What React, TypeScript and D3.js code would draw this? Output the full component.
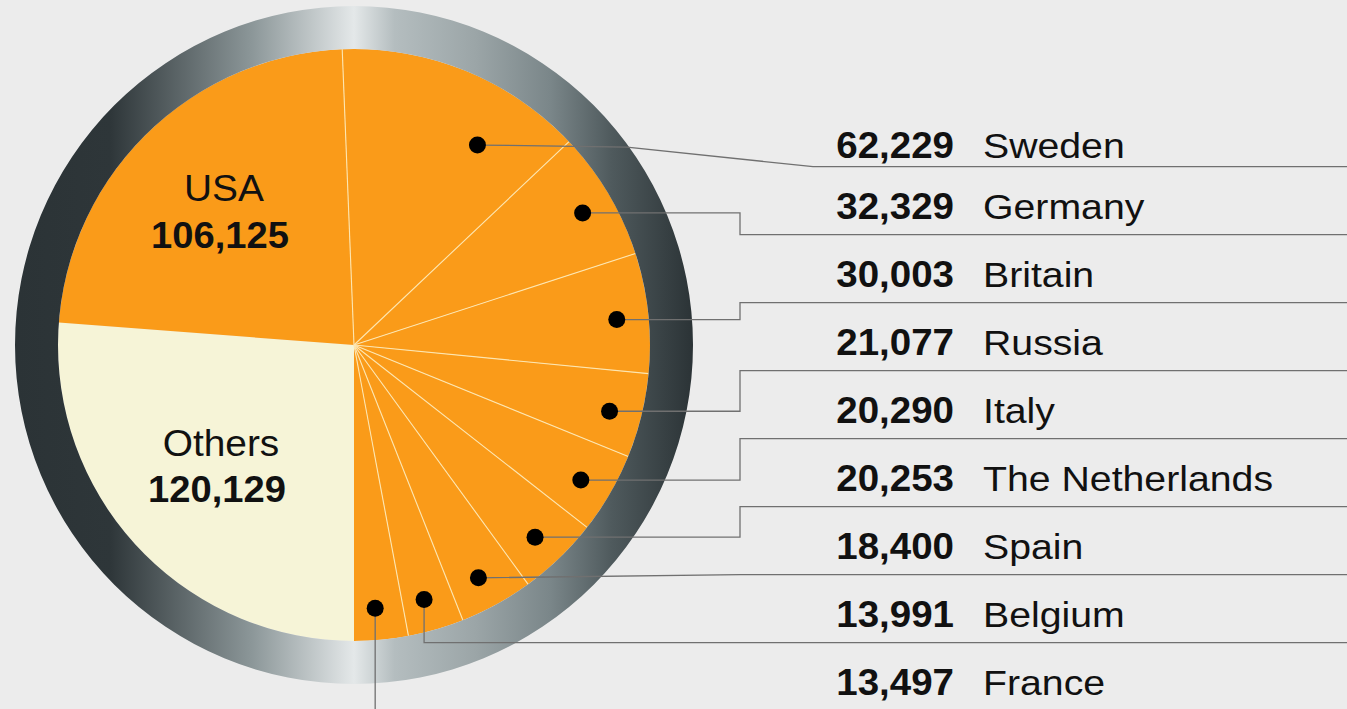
import React, { useEffect, useRef } from "react";
import * as d3 from "d3";

// values
const countries = ["Sweden", "Germany", "Britain", "Russia", "Italy", "The Netherlands", "Spain", "Belgium", "France"];
const countryValues = [62229, 32329, 30003, 21077, 20290, 20253, 18400, 13991, 13497];
const bigNames = ["Others", "USA"];
const bigValues = [120129, 106125];
const leaderKinds = ["slant", "elbow", "elbow", "elbow", "elbow", "elbow", "direct", "drop", "drop"];

const W = 1347;
const H = 709;
const cx = 354;
const cy = 345;
const r = 296;
const ringR = 339;
const font = "'Liberation Sans', Arial, Helvetica, sans-serif";
const orange = "#fa9b19";
const cream = "#f6f4d7";
const lineColor = "#707070";

export default function App() {
  const ref = useRef<SVGSVGElement>(null);

  useEffect(() => {
    document.body.style.margin = "0";
    const svg = d3.select(ref.current);
    svg.selectAll("*").remove();

    svg.append("rect").attr("width", W).attr("height", H).attr("fill", "#ececec");

    const defs = svg.append("defs");
    const grad = defs
      .append("linearGradient")
      .attr("id", "ring")
      .attr("gradientUnits", "userSpaceOnUse")
      .attr("x1", -ringR)
      .attr("x2", ringR)
      .attr("y1", 0)
      .attr("y2", 0);
    const stops: [number, string][] = [
      [0, "#2b3336"],
      [0.14, "#2e3639"],
      [0.35, "#8c9799"],
      [0.5, "#e4e8e9"],
      [0.56, "#b4bdbf"],
      [0.68, "#9ba5a7"],
      [0.79, "#7a8689"],
      [0.88, "#4f5a5d"],
      [1, "#2b3336"],
    ];
    stops.forEach(([o, c]) => grad.append("stop").attr("offset", o).attr("stop-color", c));

    type Slice = { name: string; value: number; kind: string; idx: number };
    const slices: Slice[] = [
      ...countries.map((n, i) => ({ name: n, value: countryValues[i], kind: "country", idx: i })),
      ...bigNames.map((n, i) => ({ name: n, value: bigValues[i], kind: "big", idx: i })),
    ];
    const total = d3.sum(slices, (d) => d.value);
    const countrySum = d3.sum(countryValues);
    const start = Math.PI - (2 * Math.PI * countrySum) / total;

    const pie = d3
      .pie<Slice>()
      .value((d) => d.value)
      .sort(null)
      .startAngle(start)
      .endAngle(start + 2 * Math.PI);
    const arcs = pie(slices);
    const arc = d3.arc<d3.PieArcDatum<Slice>>().innerRadius(0).outerRadius(r);

    const g = svg.append("g").attr("transform", `translate(${cx},${cy})`);

    g.selectAll("path.slice")
      .data(arcs)
      .enter()
      .append("path")
      .attr("class", "slice")
      .attr("d", arc)
      .attr("fill", (d) => (d.data.name === "Others" ? cream : orange));

    // light separators between orange slices
    const pt = (a: number, rad: number) => [Math.sin(a) * rad, -Math.cos(a) * rad];
    g.selectAll("line.sep")
      .data(arcs.filter((d) => d.data.kind === "country"))
      .enter()
      .append("line")
      .attr("x1", 0)
      .attr("y1", 0)
      .attr("x2", (d) => pt(d.startAngle, r)[0])
      .attr("y2", (d) => pt(d.startAngle, r)[1])
      .attr("stroke", "#fde6b0")
      .attr("stroke-width", 1.1);

    // metallic ring
    g.append("path")
      .attr("d", d3.arc()({ innerRadius: r, outerRadius: ringR, startAngle: 0, endAngle: 2 * Math.PI } as any) as string)
      .attr("fill", "url(#ring)");

    // rows on the right
    const rowLine = d3.scaleLinear().domain([0, 8]).range([166.7, 166.7 + 68 * 8]);
    const baseline = (i: number) => (i === 0 ? rowLine(0) - 8.4 : rowLine(i) - 16);

    const countryArcs = arcs.filter((d) => d.data.kind === "country");
    const nudge = (0.7 * Math.PI) / 180;
    const dotPos = (d: d3.PieArcDatum<Slice>) => {
      const first = d.data.idx === 0;
      const frac = first ? 0.695 : 0.5;
      const rad = first ? 235 : 264;
      const a = d.startAngle + (d.endAngle - d.startAngle) * frac + (first ? 0 : nudge);
      const p = pt(a, rad);
      return [p[0] + cx, p[1] + cy];
    };

    const leaders = svg.append("g");
    countryArcs.forEach((d) => {
      const i = d.data.idx;
      const [x, y] = dotPos(d);
      const ly = rowLine(i);
      const p = d3.path();
      p.moveTo(x, y);
      const kind = leaderKinds[i];
      if (kind === "slant") {
        p.lineTo(627, y + 2);
        p.lineTo(813, ly);
      } else if (kind === "elbow") {
        p.lineTo(740, y);
        p.lineTo(740, ly);
      } else if (kind === "direct") {
        p.lineTo(740, ly);
      } else {
        p.lineTo(x, ly);
      }
      p.lineTo(W, ly);
      leaders
        .append("path")
        .attr("d", p.toString())
        .attr("fill", "none")
        .attr("stroke", lineColor)
        .attr("stroke-width", 1.3);
    });

    leaders
      .selectAll("circle")
      .data(countryArcs)
      .enter()
      .append("circle")
      .attr("cx", (d) => dotPos(d)[0])
      .attr("cy", (d) => dotPos(d)[1])
      .attr("r", 8.5)
      .attr("fill", "#000");

    const fmt = d3.format(",");
    const rows = svg.append("g").attr("font-family", font).attr("fill", "#111");
    countries.forEach((name, i) => {
      rows
        .append("g")
        .attr("transform", `translate(954,${baseline(i)}) scale(1.07,1)`)
        .append("text")
        .attr("text-anchor", "end")
        .attr("font-weight", "bold")
        .attr("font-size", 36)
        .text(fmt(countryValues[i]));
      rows
        .append("g")
        .attr("transform", `translate(983,${baseline(i)}) scale(1.09,1)`)
        .append("text")
        .attr("font-size", 36)
        .text(name);
    });

    // labels inside the pie
    const inner = [
      { name: bigNames[1], value: bigValues[1], x: 224, y1: 201, y2: 248 },
      { name: bigNames[0], value: bigValues[0], x: 221, y1: 455.5, y2: 501.5 },
    ];
    inner.forEach((l) => {
      rows
        .append("g")
        .attr("transform", `translate(${l.x},${l.y1}) scale(1.05,1)`)
        .append("text")
        .attr("text-anchor", "middle")
        .attr("font-size", 37)
        .text(l.name);
      rows
        .append("g")
        .attr("transform", `translate(${l.x - 4},${l.y2}) scale(1.06,1)`)
        .append("text")
        .attr("text-anchor", "middle")
        .attr("font-weight", "bold")
        .attr("font-size", 36)
        .text(fmt(l.value));
    });
  }, []);

  return <svg ref={ref} width={W} height={H} style={{ position: "absolute", left: 0, top: 0, display: "block" }} />;
}
